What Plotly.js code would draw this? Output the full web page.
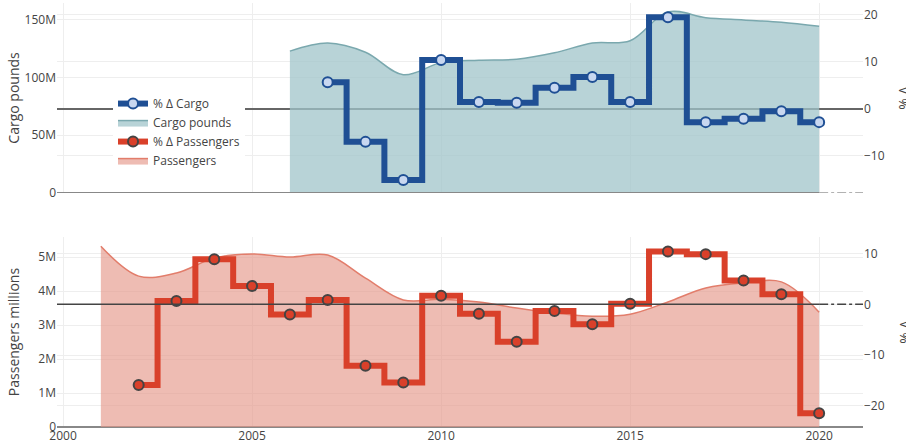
<!DOCTYPE html>
<html>
<head>
<meta charset="utf-8">
<script src="https://cdn.plot.ly/plotly-3.0.1.min.js"></script>
<style>html,body{margin:0;padding:0;background:#fff;}#chart{width:906px;height:441px;}</style>
</head>
<body>
<div id="chart"></div>
<script>
// ---- data ----
var cargoYears = [2006,2007,2008,2009,2010,2011,2012,2013,2014,2015,2016,2017,2018,2019,2020];
var cargoPounds = [123e6,130e6,122e6,102.5e6,113e6,115e6,116e6,121.5e6,130e6,132e6,157e6,152e6,150e6,148e6,144.5e6];

var cargoPctYears = [2007,2008,2009,2010,2011,2012,2013,2014,2015,2016,2017,2018,2019,2020];
var cargoPct = [5.7,-7.0,-15.1,10.4,1.5,1.3,4.5,6.8,1.5,19.5,-2.8,-2.1,-0.5,-2.8];

var paxYears = [2001,2002,2003,2004,2005,2006,2007,2008,2009,2010,2011,2012,2013,2014,2015,2016,2017,2018,2019,2020];
var paxMillions = [5.32e6,4.44e6,4.53e6,4.97e6,5.09e6,5.0e6,5.06e6,4.38e6,3.74e6,3.76e6,3.68e6,3.5e6,3.35e6,3.26e6,3.32e6,3.68e6,4.09e6,4.24e6,4.27e6,3.38e6];

var paxPctYears = [2002,2003,2004,2005,2006,2007,2008,2009,2010,2011,2012,2013,2014,2015,2016,2017,2018,2019,2020];
var paxPct = [-15.9,0.65,8.9,3.6,-2.0,0.85,-12.1,-15.4,1.7,-1.85,-7.4,-1.3,-3.95,0.1,10.4,9.9,4.7,2.0,-21.5];

var xTickVals = [2000,2005,2010,2015,2020];
var xTickText = ['2000','2005','2010','2015','2020'];
var rightTitle = '% \u0394';

// ---- styling ----
var xRange = [1999.84, 2021.16];
var font = {family: '"Open Sans", verdana, arial, sans-serif', size: 12, color: '#444'};

var traces = [
  {
    name: '% \u0394 Cargo', x: cargoPctYears, y: cargoPct, xaxis: 'x2', yaxis: 'y2',
    type: 'scatter', mode: 'lines+markers',
    line: {shape: 'hvh', color: '#1f4f94', width: 6},
    marker: {size: 10, color: '#c8d7f0', line: {color: '#1f4f94', width: 2}}
  },
  {
    name: 'Cargo pounds', x: cargoYears, y: cargoPounds, xaxis: 'x2', yaxis: 'y',
    type: 'scatter', mode: 'lines', fill: 'tozeroy',
    fillcolor: 'rgba(160,196,202,0.75)',
    line: {shape: 'spline', color: '#7aa8ae', width: 1.5}
  },
  {
    name: '% \u0394 Passengers', x: paxPctYears, y: paxPct, xaxis: 'x', yaxis: 'y4',
    type: 'scatter', mode: 'lines+markers',
    line: {shape: 'hvh', color: '#d9402a', width: 6},
    marker: {size: 10, color: '#d9402a', line: {color: '#444', width: 2}}
  },
  {
    name: 'Passengers', x: paxYears, y: paxMillions, xaxis: 'x', yaxis: 'y3',
    type: 'scatter', mode: 'lines', fill: 'tozeroy',
    fillcolor: 'rgba(228,150,136,0.64)',
    line: {shape: 'spline', color: '#e27d6b', width: 1.5}
  }
];

var dom = function(v){ return (v - xRange[0]) / (xRange[1] - xRange[0]); };

var layout = {
  width: 906, height: 441,
  margin: {l: 57, r: 43, t: 3, b: 14},
  font: font,
  paper_bgcolor: '#fff', plot_bgcolor: '#fff',
  showlegend: true,
  legend: {x: 0.0695, y: 0.797, xanchor: 'left', yanchor: 'top', bgcolor: '#fff', font: font},
  xaxis: {
    domain: [0, 1], anchor: 'y3', range: xRange, tickvals: xTickVals, ticktext: xTickText,
    showgrid: true, gridcolor: '#eee', zeroline: false, showline: false, ticks: ''
  },
  xaxis2: {
    domain: [0, 1], anchor: 'y', range: xRange, tickvals: xTickVals,
    showticklabels: false, showgrid: true, gridcolor: '#eee', zeroline: false, showline: false, ticks: ''
  },
  yaxis: {
    domain: [0.552, 1], anchor: 'x2', range: [0, 164.7e6], tickvals: [0, 50e6, 100e6, 150e6],
    ticktext: ['0', '50M', '100M', '150M'],
    title: {text: 'Cargo pounds', font: {size: 14, color: '#444'}},
    showgrid: true, gridcolor: '#eee', zeroline: false
  },
  yaxis2: {
    overlaying: 'y', side: 'right', anchor: 'x2', range: [-17.87, 22.55], tickvals: [-10, 0, 10, 20],
    showgrid: true, gridcolor: '#eee', zeroline: true, zerolinecolor: '#666', zerolinewidth: 2
  },
  yaxis3: {
    domain: [0, 0.448], anchor: 'x', range: [0, 5.59e6], tickvals: [0, 1e6, 2e6, 3e6, 4e6, 5e6],
    ticktext: ['0', '1M', '2M', '3M', '4M', '5M'],
    title: {text: 'Passengers millions', font: {size: 14, color: '#444'}},
    showgrid: true, gridcolor: '#eee', zeroline: true, zerolinecolor: '#888', zerolinewidth: 2
  },
  yaxis4: {
    overlaying: 'y3', side: 'right', anchor: 'x', range: [-24.2, 13.27], tickvals: [-20, -10, 0, 10],
    ticktext: ['\u221220', '\u221210', '0', '10'],
    showgrid: true, gridcolor: '#eee', zeroline: false
  },
  annotations: [
    {text: rightTitle, xref: 'paper', yref: 'paper', x: 1.0505, y: 0.776, textangle: -90,
     showarrow: false, xanchor: 'center', yanchor: 'middle', font: {size: 14, color: '#444'}},
    {text: rightTitle, xref: 'paper', yref: 'paper', x: 1.0505, y: 0.224, textangle: -90,
     showarrow: false, xanchor: 'center', yanchor: 'middle', font: {size: 14, color: '#444'}}
  ],
  shapes: [
    {type: 'line', xref: 'x2 domain', yref: 'y', x0: 0, x1: dom(2020), y0: 0, y1: 0,
     line: {color: '#888', width: 2}, layer: 'above'},
    {type: 'line', xref: 'x2 domain', yref: 'y', x0: dom(2020), x1: 1, y0: 0, y1: 0,
     line: {color: '#999', width: 1.5, dash: 'dashdot'}, layer: 'above'},
    {type: 'line', xref: 'x domain', yref: 'y4', x0: 0, x1: dom(2020), y0: 0, y1: 0,
     line: {color: '#444', width: 1.5}, layer: 'above'},
    {type: 'line', xref: 'x domain', yref: 'y4', x0: dom(2020), x1: 1, y0: 0, y1: 0,
     line: {color: '#444', width: 1.5, dash: 'dashdot'}, layer: 'above'}
  ]
};

Plotly.newPlot('chart', traces, layout, {displayModeBar: false, staticPlot: true});
</script>
</body>
</html>
